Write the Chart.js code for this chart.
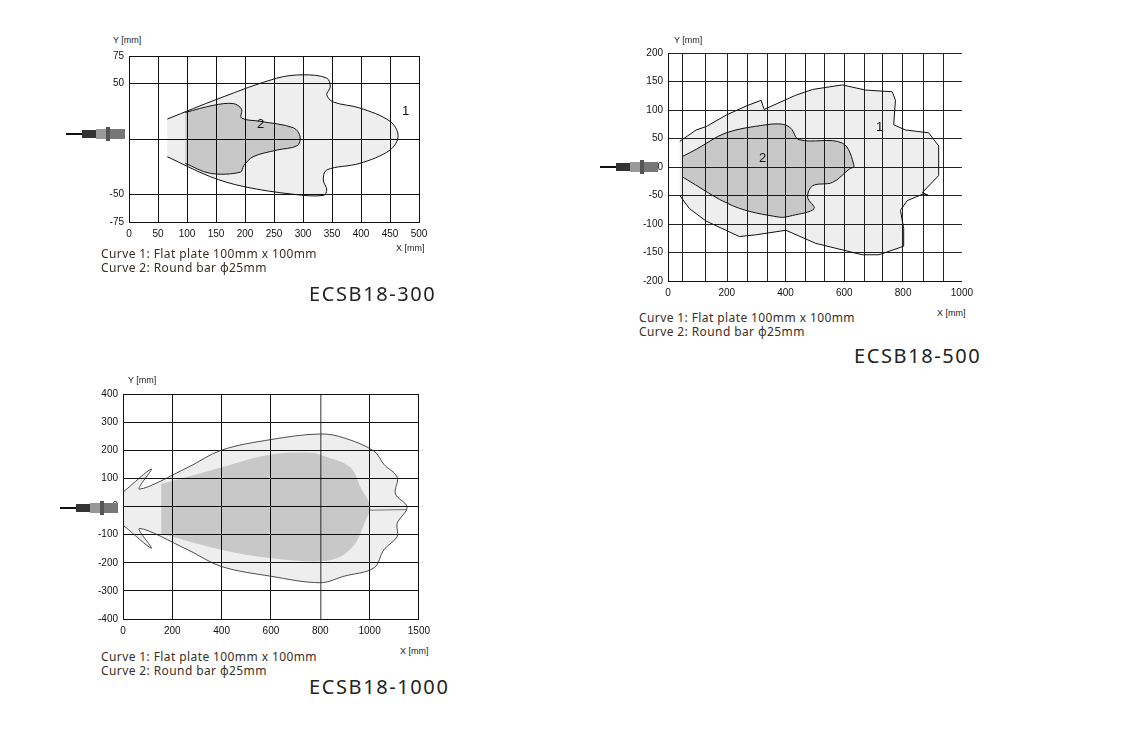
<!DOCTYPE html>
<html><head><meta charset="utf-8">
<script src="https://cdn.jsdelivr.net/npm/chart.js@4/dist/chart.umd.min.js"></script>
<style>
body{margin:0;background:#fff;width:1133px;height:729px;position:relative;overflow:hidden;font-family:"Liberation Sans",Arial,sans-serif}
canvas{position:absolute}
.t{position:absolute;font-size:9px;color:#222;white-space:nowrap}
.cap{position:absolute;font-family:"Noto Sans",sans-serif;font-size:12px;letter-spacing:0.4px;color:#3a2f25;line-height:14px;white-space:nowrap}
.ttl{position:absolute;font-family:"Noto Sans",sans-serif;font-size:20px;color:#222;letter-spacing:1.6px;white-space:nowrap}
.num{position:absolute;font-size:13px;color:#111}
.sen{position:absolute;height:14px;width:60px}
.sen i{position:absolute;display:block}
</style></head><body>
<canvas id="c1" width="346" height="201" style="left:89px;top:45px"></canvas>
<canvas id="c2" width="351" height="263" style="left:628px;top:42px"></canvas>
<canvas id="c3" width="353" height="260" style="left:83px;top:383px"></canvas>

<div class="t" style="left:113px;top:35px">Y [mm]</div>
<div class="t" style="left:396px;top:243px">X [mm]</div>
<div class="num" style="left:402px;top:103px">1</div>
<div class="num" style="left:257px;top:116px">2</div>
<div class="cap" style="left:101px;top:247px">Curve 1: Flat plate 100mm x 100mm<br>Curve 2: Round bar ϕ25mm</div>
<div class="ttl" style="left:309px;top:280px">ECSB18-300</div>

<div class="t" style="left:674px;top:35px">Y [mm]</div>
<div class="t" style="left:937px;top:308px">X [mm]</div>
<div class="num" style="left:876px;top:119px">1</div>
<div class="num" style="left:759px;top:150px">2</div>
<div class="cap" style="left:639px;top:311px">Curve 1: Flat plate 100mm x 100mm<br>Curve 2: Round bar ϕ25mm</div>
<div class="ttl" style="left:854px;top:342px">ECSB18-500</div>

<div class="t" style="left:128px;top:375px">Y [mm]</div>
<div class="t" style="left:400px;top:646px">X [mm]</div>
<div class="cap" style="left:101px;top:650px">Curve 1: Flat plate 100mm x 100mm<br>Curve 2: Round bar ϕ25mm</div>
<div class="ttl" style="left:309px;top:673px">ECSB18-1000</div>

<div class="sen" style="left:66px;top:127px"><i style="left:0;top:6px;width:18px;height:2px;background:#111"></i><i style="left:16px;top:3px;width:14px;height:8px;background:#333"></i><i style="left:30px;top:2px;width:14px;height:10px;background:#999"></i><i style="left:40px;top:0;width:4px;height:14px;background:#555"></i><i style="left:44px;top:2px;width:15px;height:10px;background:#777"></i></div>
<div class="sen" style="left:600px;top:160px"><i style="left:0;top:6px;width:18px;height:2px;background:#111"></i><i style="left:16px;top:3px;width:14px;height:8px;background:#333"></i><i style="left:30px;top:2px;width:14px;height:10px;background:#999"></i><i style="left:40px;top:0;width:4px;height:14px;background:#555"></i><i style="left:44px;top:2px;width:14px;height:10px;background:#777"></i></div>
<div class="sen" style="left:60px;top:501px"><i style="left:0;top:6px;width:18px;height:2px;background:#111"></i><i style="left:16px;top:3px;width:14px;height:8px;background:#333"></i><i style="left:30px;top:2px;width:14px;height:10px;background:#999"></i><i style="left:40px;top:0;width:4px;height:14px;background:#555"></i><i style="left:44px;top:2px;width:14px;height:10px;background:#777"></i></div>

<script>
// ---- ECSB18-300 ----
const c1Curve1X=[66,140,198,284,335,341,335,341,398,450,464,450,398,352,341,347,341,301,255,157,66];
const c1Curve1Y=[-16,-34,-43,-50,-51,-46,-37,-28,-22,-10,3,16,28,33.5,40,47,55,58,55,37,18];
const c1Curve2X=[97,140,192,198,214,255,290,295,284,226,194,194,180,146,97];
const c1Curve2Y=[-22,-31,-30,-24,-16,-10,-6,2,10,16,19,27,32,30.5,24];
const c1XTicks=[0,50,100,150,200,250,300,350,400,450,500];
const c1YTicks=[-75,-50,0,50,75];
const c1YLabels=['-75','-50','','50','75'];

// ---- ECSB18-500 ----
const c2Curve1X=[40,73,130,243,299,401,503,661,718,802,802,791,814,870,887,865,921,921,887,808,768,774,763,672,593,492,435,327,317,266,198,130,96,40];
const c2Curve1Y=[-50,-73,-95,-122,-119,-111,-134,-154,-154,-139,-108,-76,-59,-47,-50,-45,-15,37,60,65,74,117,132,135,144,136,126,101,117,107,91,71,65,45];
const c2Curve2X=[51,220,379,424,497,475,492,560,616,633,593,446,418,390,333,198,96,51];
const c2Curve2Y=[-18,-68,-88,-85,-73,-53,-33,-27,-4,2,42,48,68,75,74,60,31,19];
const c2XLabels=[0,200,400,600,800,1000];
const c2XGrid=[49,128,202,269,339,401,469,534,601,667,731,799,870,938];
const c2YTicks=[-200,-150,-100,-50,0,50,100,150,200];

// ---- ECSB18-1000 ----
const c3Curve1X=[0,115,67,263,398,600,802,896,1018,1058,1112,1105,1152,1112,1112,1058,1018,896,802,600,398,263,67,115,0];
const c3Curve1Y=[51,133,62,139,200,238,258,244,197,150,104,45,-2,-60,-107,-154,-218,-248,-271,-248,-213,-154,-78,-148,-66];
const c3Curve2X=[155,398,600,762,816,923,964,1004,984,943,883,802,600,398,155];
const c3Curve2Y=[80,139,185,191,180,139,68,-2,-49,-131,-178,-195,-184,-154,-96];
const c3TailX=[1000,1152];
const c3TailY=[-13,-11];
const c3XTicks=[0,200,400,600,800,1000,1200];
const c3XLabels=['0','200','400','600','800','1000','1500'];
const c3YTicks=[-400,-300,-200,-100,0,100,200,300,400];

const pts=(xs,ys)=>xs.map((x,i)=>({x,y:ys[i]}));
const font={family:'"Liberation Sans",Arial,sans-serif',size:10};
const F1='rgba(0,0,0,0.065)', F2='rgba(0,0,0,0.16)';
function make(id,datasets,x,y){
  new Chart(document.getElementById(id),{type:'scatter',data:{datasets},
    options:{responsive:false,animation:false,devicePixelRatio:1,
      layout:{padding:{top:8,right:16,left:0,bottom:0}},
      plugins:{legend:{display:false},tooltip:{enabled:false}},
      elements:{point:{radius:0}},
      scales:{
        x:Object.assign({type:'linear',afterFit:s=>{s.height=24},border:{color:'#111',width:1}},x),
        y:Object.assign({type:'linear',afterFit:s=>{s.width=40},border:{color:'#111',width:1}},y)
      }}});
}
const poly=(d,fillc,stroke,order)=>({data:d,showLine:true,fill:'shape',backgroundColor:fillc,borderColor:stroke,borderWidth:1,tension:0.35,order});

make('c1',[poly(pts(c1Curve2X,c1Curve2Y),F2,'#111',1),poly(pts(c1Curve1X,c1Curve1Y),F1,'#111',2)],
 {min:0,max:500,afterBuildTicks:s=>{s.ticks=c1XTicks.map(v=>({value:v}))},ticks:{font,color:'#111',padding:6,autoSkip:false,maxRotation:0},grid:{color:'#111',drawTicks:false}},
 {min:-75,max:75,afterBuildTicks:s=>{s.ticks=c1YTicks.map(v=>({value:v}))},ticks:{font,color:'#111',padding:5,callback:(v,i)=>c1YLabels[i]},grid:{color:'#111',drawTicks:false}});

const c2All=[...c2XLabels,...c2XGrid].sort((a,b)=>a-b);
make('c2',[poly(pts(c2Curve2X,c2Curve2Y),F2,'#111',1),Object.assign(poly(pts(c2Curve1X,c2Curve1Y),F1,'#111',2),{tension:0})],
 {min:0,max:1000,afterBuildTicks:s=>{s.ticks=c2All.map(v=>({value:v}))},ticks:{font,color:'#111',padding:6,autoSkip:false,maxRotation:0,callback:v=>c2XLabels.includes(v)?String(v):''},grid:{color:c=>c2XGrid.includes(c.tick&&c.tick.value)?'#222':'rgba(0,0,0,0)',drawTicks:false}},
 {min:-200,max:200,afterBuildTicks:s=>{s.ticks=c2YTicks.map(v=>({value:v}))},ticks:{font,color:'#111',padding:5},grid:{color:'#222',drawTicks:false}});

make('c3',[poly(pts(c3Curve2X,c3Curve2Y),F2,'rgba(0,0,0,0)',1),
  Object.assign(poly(pts(c3Curve1X,c3Curve1Y),F1,'#222',2),{borderWidth:0.8}),
  {data:pts(c3TailX,c3TailY),showLine:true,fill:false,borderColor:'#555',borderWidth:0.8,order:0}],
 {min:0,max:1200,afterBuildTicks:s=>{s.ticks=c3XTicks.map(v=>({value:v}))},ticks:{font,color:'#111',padding:6,autoSkip:false,maxRotation:0,callback:(v,i)=>c3XLabels[i]},grid:{color:c=>(c.tick&&c.tick.value===800)?'#777':'#111',lineWidth:c=>(c.tick&&c.tick.value===800)?1.5:1,drawTicks:false}},
 {min:-400,max:400,afterBuildTicks:s=>{s.ticks=c3YTicks.map(v=>({value:v}))},ticks:{font,color:'#111',padding:5},grid:{color:'#111',drawTicks:false}});
</script>
</body></html>
